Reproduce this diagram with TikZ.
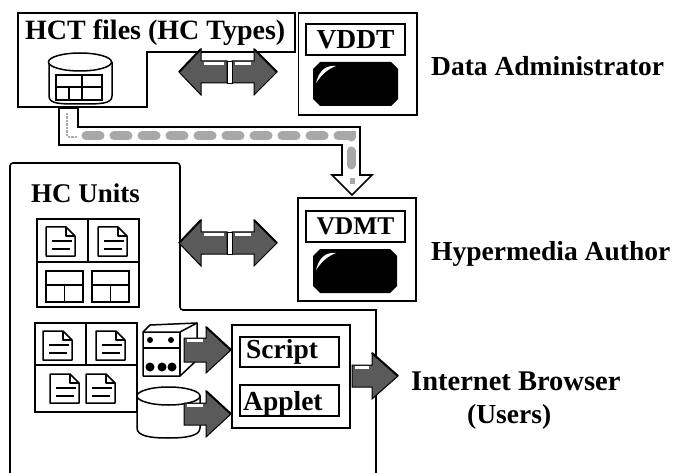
\documentclass[tikz,border=0pt]{standalone}
\usepackage{fontspec}
\setmainfont{Liberation Serif}
\usetikzlibrary{calc}
\definecolor{halftone}{HTML}{5A5A5A}
\definecolor{mottle}{HTML}{A8A8A8}
\tikzset{
  outl/.style={draw=black,line width=1.6pt,line join=miter},
  fineline/.style={draw=black,line width=1.5pt},
  framebox/.style={draw=black,line width=1.6pt,fill=white,inner sep=0pt,outer sep=0pt},
  titlebox/.style={framebox,font=\bfseries\fontsize{26}{26}\selectfont},
  lbl/.style={font=\bfseries\fontsize{27.5}{30}\selectfont,inner sep=0pt,anchor=base west},
  arrowfill/.style={fill=halftone,draw=black,line width=1pt,line join=miter},
  arrowtop/.style={draw=black,line width=2pt},
  shine/.style={fill=white,draw=none}
}
\newcommand{\rarrow}[6]{%
  \path[arrowfill] (#1,#4-#5) -- (#2,#4-#5) -- (#2,#4-#6) -- (#3,#4) -- (#2,#4+#6) -- (#2,#4+#5) -- (#1,#4+#5) -- cycle;
  \draw[arrowtop] (#2,#4-#6) -- (#3,#4);
  \fill[shine] (#1+3,#4-#5+1) rectangle (#2-3,#4-#5+4);
}
\newcommand{\larrow}[6]{%
  \path[arrowfill] (#1,#4-#5) -- (#2,#4-#5) -- (#2,#4-#6) -- (#3,#4) -- (#2,#4+#6) -- (#2,#4+#5) -- (#1,#4+#5) -- cycle;
  \draw[arrowtop] (#2,#4-#6) -- (#3,#4);
  \fill[shine] (#2+3,#4-#5+1) rectangle (#1-3,#4-#5+4);
}
\newcommand{\doublearrow}[1]{%
  \rarrow{232}{254}{277}{#1}{11}{23}
  \larrow{227}{201}{179}{#1}{11}{23}
  \draw[black,line width=.8pt,fill=white] (227,#1-11) rectangle (232,#1+11);
}
\newcommand{\docicon}[2]{%
  \begin{scope}[shift={(#1,#2)}]
    \draw[fineline,fill=white,line join=round] (0,0) -- (20,0) -- (29,9) -- (29,29) -- (0,29) -- cycle;
    \draw[fineline,line join=round] (20,0) -- (20,9) -- (29,9);
    \draw[fineline] (6,14) -- (26,14);
    \draw[fineline] (6,22) -- (24,22);
  \end{scope}}
\newcommand{\gridicon}[2]{%
  \begin{scope}[shift={(#1,#2)}]
    \draw[fineline,fill=white] (0,0) rectangle (37,31);
    \draw[fineline] (0,14) -- (37,14);
    \draw[fineline] (18.5,14) -- (18.5,31);
  \end{scope}}
\newcommand{\screenshape}[3]{%
  \begin{scope}[shift={(#1,#2)}]
    \fill[black] (7,0) -- (#3-7,0) -- (#3,7) -- (#3,37) -- (#3-7,44) -- (7,44) -- (0,37) -- (0,7) -- cycle;
    \fill[white] (3,21) .. controls (6,10) and (11,3) .. (23,4) .. controls (15,7) and (9,12) .. cycle;
  \end{scope}}
\begin{document}
\begin{tikzpicture}[x=1pt,y=-1pt]
\useasboundingbox (0,0) rectangle (680,473);
\fill[white] (0,0) rectangle (680,473);

% HCT outline
\draw[outl] (18,13) -- (295,13) -- (295,52) -- (147,52) -- (147,107) -- (18,107) -- cycle;
\node[lbl] (hct) at (25,40) {\fontsize{28}{30}\selectfont HCT files (HC Types)};

% HCT cylinder
\draw[fineline,fill=white] (49,62) -- (49,96) .. controls (49,104) and (60,104) .. (80,104) .. controls (100,104) and (112,104) .. (112,96) -- (112,62);
\draw[fineline,fill=white] (80,62) ellipse [x radius=31.5,y radius=9];
\draw[fineline,fill=white] (56,75) rectangle (102,100);
\draw[fineline] (56,87) -- (102,87);
\draw[fineline] (82,75) -- (82,100);
\draw[fineline] (69,87) -- (69,100);

% flow arrow
\coordinate (flowtip) at (352,195);
\draw[outl,fill=white] (59,108) -- (59,145) -- (342,145) -- (342,175) -- (332,175) -- (flowtip) -- (372,175) -- (360,175) -- (360,127) -- (78,127) -- (78,108) -- cycle;
\draw[mottle,line width=9pt,line cap=round,dash pattern=on 14pt off 14pt] (86,136) -- (351,136) -- (351,170);
\draw[mottle,line width=2.5pt,densely dotted] (67,113) -- (67,137) -- (78,137);
\draw[mottle,line width=5pt] (352,178) -- (352,184);

% VDDT
\node[framebox,minimum width=118.5,minimum height=102] (vddtbox) at (357.75,64) {};
\node[titlebox,minimum width=99,minimum height=31] (vddt) at (355.5,39.5) {\fontsize{27.5}{28}\selectfont VDDT};
\screenshape{313}{62}{85}
\node[lbl] (da) at (431,76) {Data Administrator};

% double arrows
\doublearrow{72}
% HC units outline
\draw[outl,rounded corners=3pt] (10,473) -- (10,163) -- (180,163) -- (180,310) [sharp corners] -- (376,310) -- (376,473);
\node[lbl] (units) at (31,203) {\fontsize{27}{30}\selectfont HC Units};
\doublearrow{243}

% VDMT
\node[framebox,minimum width=118,minimum height=103] (vdmtbox) at (357,249.5) {};
\node[titlebox,minimum width=99,minimum height=31] (vdmt) at (355.5,226.5) {\fontsize{25.5}{28}\selectfont VDMT};
\screenshape{313}{249}{84}
\node[lbl] (ha) at (431,260) {Hypermedia Author};

% group 1
\node[framebox,minimum width=102,minimum height=88] (g1) at (88,263) {};
\draw[fineline] (g1.west |- 0,262) -- (g1.east |- 0,262);
\draw[fineline] (88,219) -- (88,262);
\docicon{46}{227}
\docicon{98}{227}
\gridicon{46}{271}
\gridicon{92}{271}

% group 2
\node[framebox,minimum width=102,minimum height=89] (g2) at (86,367.5) {};
\draw[fineline] (g2.west |- 0,365) -- (g2.east |- 0,365);
\draw[fineline] (86,323) -- (86,365);
\docicon{43}{331}
\docicon{96}{331}
\docicon{50}{374}
\docicon{86}{374}

% cube
\draw[fineline,fill=white,line join=round] (143,332) -- (150,325) -- (197,323) -- (197,360) -- (180,376) -- (143,376) -- cycle;
\draw[fineline] (143,332) -- (180,332) -- (197,323);
\draw[fineline] (180,332) -- (180,376);
\draw[line width=2pt] (143,348) -- (180,348);
\foreach \cx in {150,162,172} \fill (\cx,367) circle (4.5);
\foreach \cx in {150,171} \fill (\cx,340) circle (3);

% disk
\draw[fineline,fill=white] (137,396) -- (137,428) .. controls (137,436) and (150,438) .. (168,438) .. controls (186,438) and (200,436) .. (200,428) -- (200,396);
\draw[fineline,fill=white] (168.5,396) ellipse [x radius=31.5,y radius=9];

% run-time box
\node[framebox,minimum width=118,minimum height=103] (rt) at (291,376.5) {};
\node[framebox,minimum width=99,minimum height=30] (scriptbox) at (289.5,352) {};
\node[lbl] (script) at (246,358) {Script};
\node[framebox,minimum width=99,minimum height=31] (appletbox) at (289.5,400.5) {};
\node[lbl] (applet) at (243,410) {Applet};

% arrows to the box
\rarrow{184}{206}{231}{350}{12}{23}
\rarrow{184}{206}{231}{414}{11}{23}
% arrow out of the box
\rarrow{352}{372}{398}{376}{11}{23}

\node[lbl] (ib) at (411,390) {\fontsize{28.5}{30}\selectfont Internet Browser};
\node[lbl] (us) at (467,423) {(Users)};
\end{tikzpicture}
\end{document}
